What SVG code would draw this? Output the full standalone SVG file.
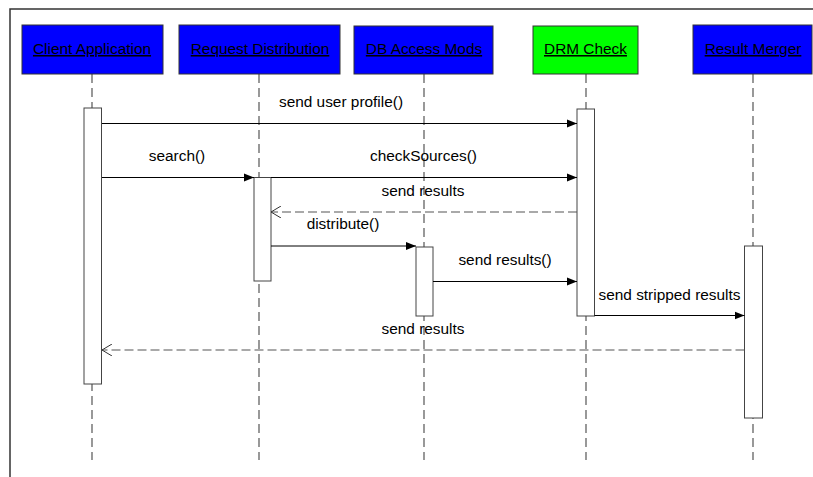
<svg xmlns="http://www.w3.org/2000/svg" width="813" height="477" viewBox="0 0 813 477">
  <defs>
    <marker id="filled" viewBox="0 0 10 10" refX="10" refY="5" markerWidth="10" markerHeight="10" markerUnits="userSpaceOnUse" orient="auto">
      <path d="M0,1 L10,5 L0,9 Z" fill="#000"/>
    </marker>
    <marker id="open" viewBox="0 0 10 12" refX="10" refY="6" markerWidth="10" markerHeight="12" markerUnits="userSpaceOnUse" orient="auto">
      <path d="M0,0 L10,6 L0,12" fill="none" stroke="#333" stroke-width="1"/>
    </marker>
  </defs>
  <style>
    text { font-family: "Liberation Sans", Arial, sans-serif; font-size: 15.4px; fill: #000; }
    .head { stroke: #333; stroke-width: 1; }
    .head text { text-anchor: middle; text-decoration: underline; stroke: none; }
    .blue { fill: #0000ff; }
    .green { fill: #00ff00; }
    .life { stroke: #555; stroke-width: 1.2; stroke-dasharray: 9 5; fill: none; }
    .act { fill: #fff; stroke: #444; stroke-width: 1; }
    .call { stroke: #000; stroke-width: 1; fill: none; marker-end: url(#filled); }
    .reply { stroke: #555; stroke-width: 1.2; stroke-dasharray: 9 4; fill: none; marker-end: url(#open); }
    .lbl { text-anchor: middle; }
  </style>

  <rect width="813" height="477" fill="#fff"/>
  <!-- diagram frame -->
  <path d="M10,477 L10,9 L813,9" fill="none" stroke="#333" stroke-width="1.5"/>

  <!-- lifelines -->
  <g id="lifelines">
    <line class="life" x1="92" y1="74" x2="92" y2="460"/>
    <line class="life" x1="259" y1="74" x2="259" y2="460"/>
    <line class="life" x1="424" y1="74" x2="424" y2="460"/>
    <line class="life" x1="586" y1="74" x2="586" y2="460"/>
    <line class="life" x1="753" y1="74" x2="753" y2="460"/>
  </g>

  <!-- participants -->
  <g id="client" class="head">
    <rect class="blue" x="22" y="25" width="141" height="49"/>
    <text x="92" y="54">Client Application</text>
  </g>
  <g id="distributor" class="head">
    <rect class="blue" x="179" y="25" width="161" height="49"/>
    <text x="260" y="54">Request Distribution</text>
  </g>
  <g id="dbaccess" class="head">
    <rect class="blue" x="354" y="26" width="139" height="48"/>
    <text x="424" y="54">DB Access Mods</text>
  </g>
  <g id="drm" class="head">
    <rect class="green" x="533" y="26" width="105" height="48"/>
    <text x="585.5" y="54">DRM Check</text>
  </g>
  <g id="merger" class="head">
    <rect class="blue" x="693" y="25" width="119" height="49"/>
    <text x="753" y="54">Result Merger</text>
  </g>

  <!-- activations -->
  <g id="activations">
    <rect class="act" x="84" y="108" width="17.5" height="276"/>
    <rect class="act" x="254" y="177.5" width="17" height="103.5"/>
    <rect class="act" x="416" y="247" width="17" height="69"/>
    <rect class="act" x="577" y="109" width="17.5" height="207"/>
    <rect class="act" x="744.5" y="246" width="18" height="172"/>
  </g>

  <!-- messages -->
  <g id="connectors">
    <line class="call" x1="102" y1="123.5" x2="577" y2="123.5"/>
    <line class="call" x1="102" y1="177.5" x2="254" y2="177.5"/>
    <line class="call" x1="271" y1="177.5" x2="577" y2="177.5"/>
    <line class="reply" x1="577" y1="212" x2="271" y2="212"/>
    <line class="call" x1="271" y1="246" x2="416" y2="246"/>
    <line class="call" x1="433" y1="281.5" x2="577" y2="281.5"/>
    <line class="call" x1="594.5" y1="315.5" x2="744.5" y2="315.5"/>
    <line class="reply" x1="744.5" y1="350" x2="102" y2="350"/>
  </g>

  <!-- message labels -->
  <g id="labels">
    <text class="lbl" x="341" y="107">send user profile()</text>
    <text class="lbl" x="177" y="161">search()</text>
    <text class="lbl" x="423.5" y="161">checkSources()</text>
    <text class="lbl" x="423" y="196">send results</text>
    <text class="lbl" x="343" y="229">distribute()</text>
    <text class="lbl" x="505" y="265">send results()</text>
    <text class="lbl" x="669.5" y="299.5">send stripped results</text>
    <text class="lbl" x="423" y="334">send results</text>
  </g>
</svg>
